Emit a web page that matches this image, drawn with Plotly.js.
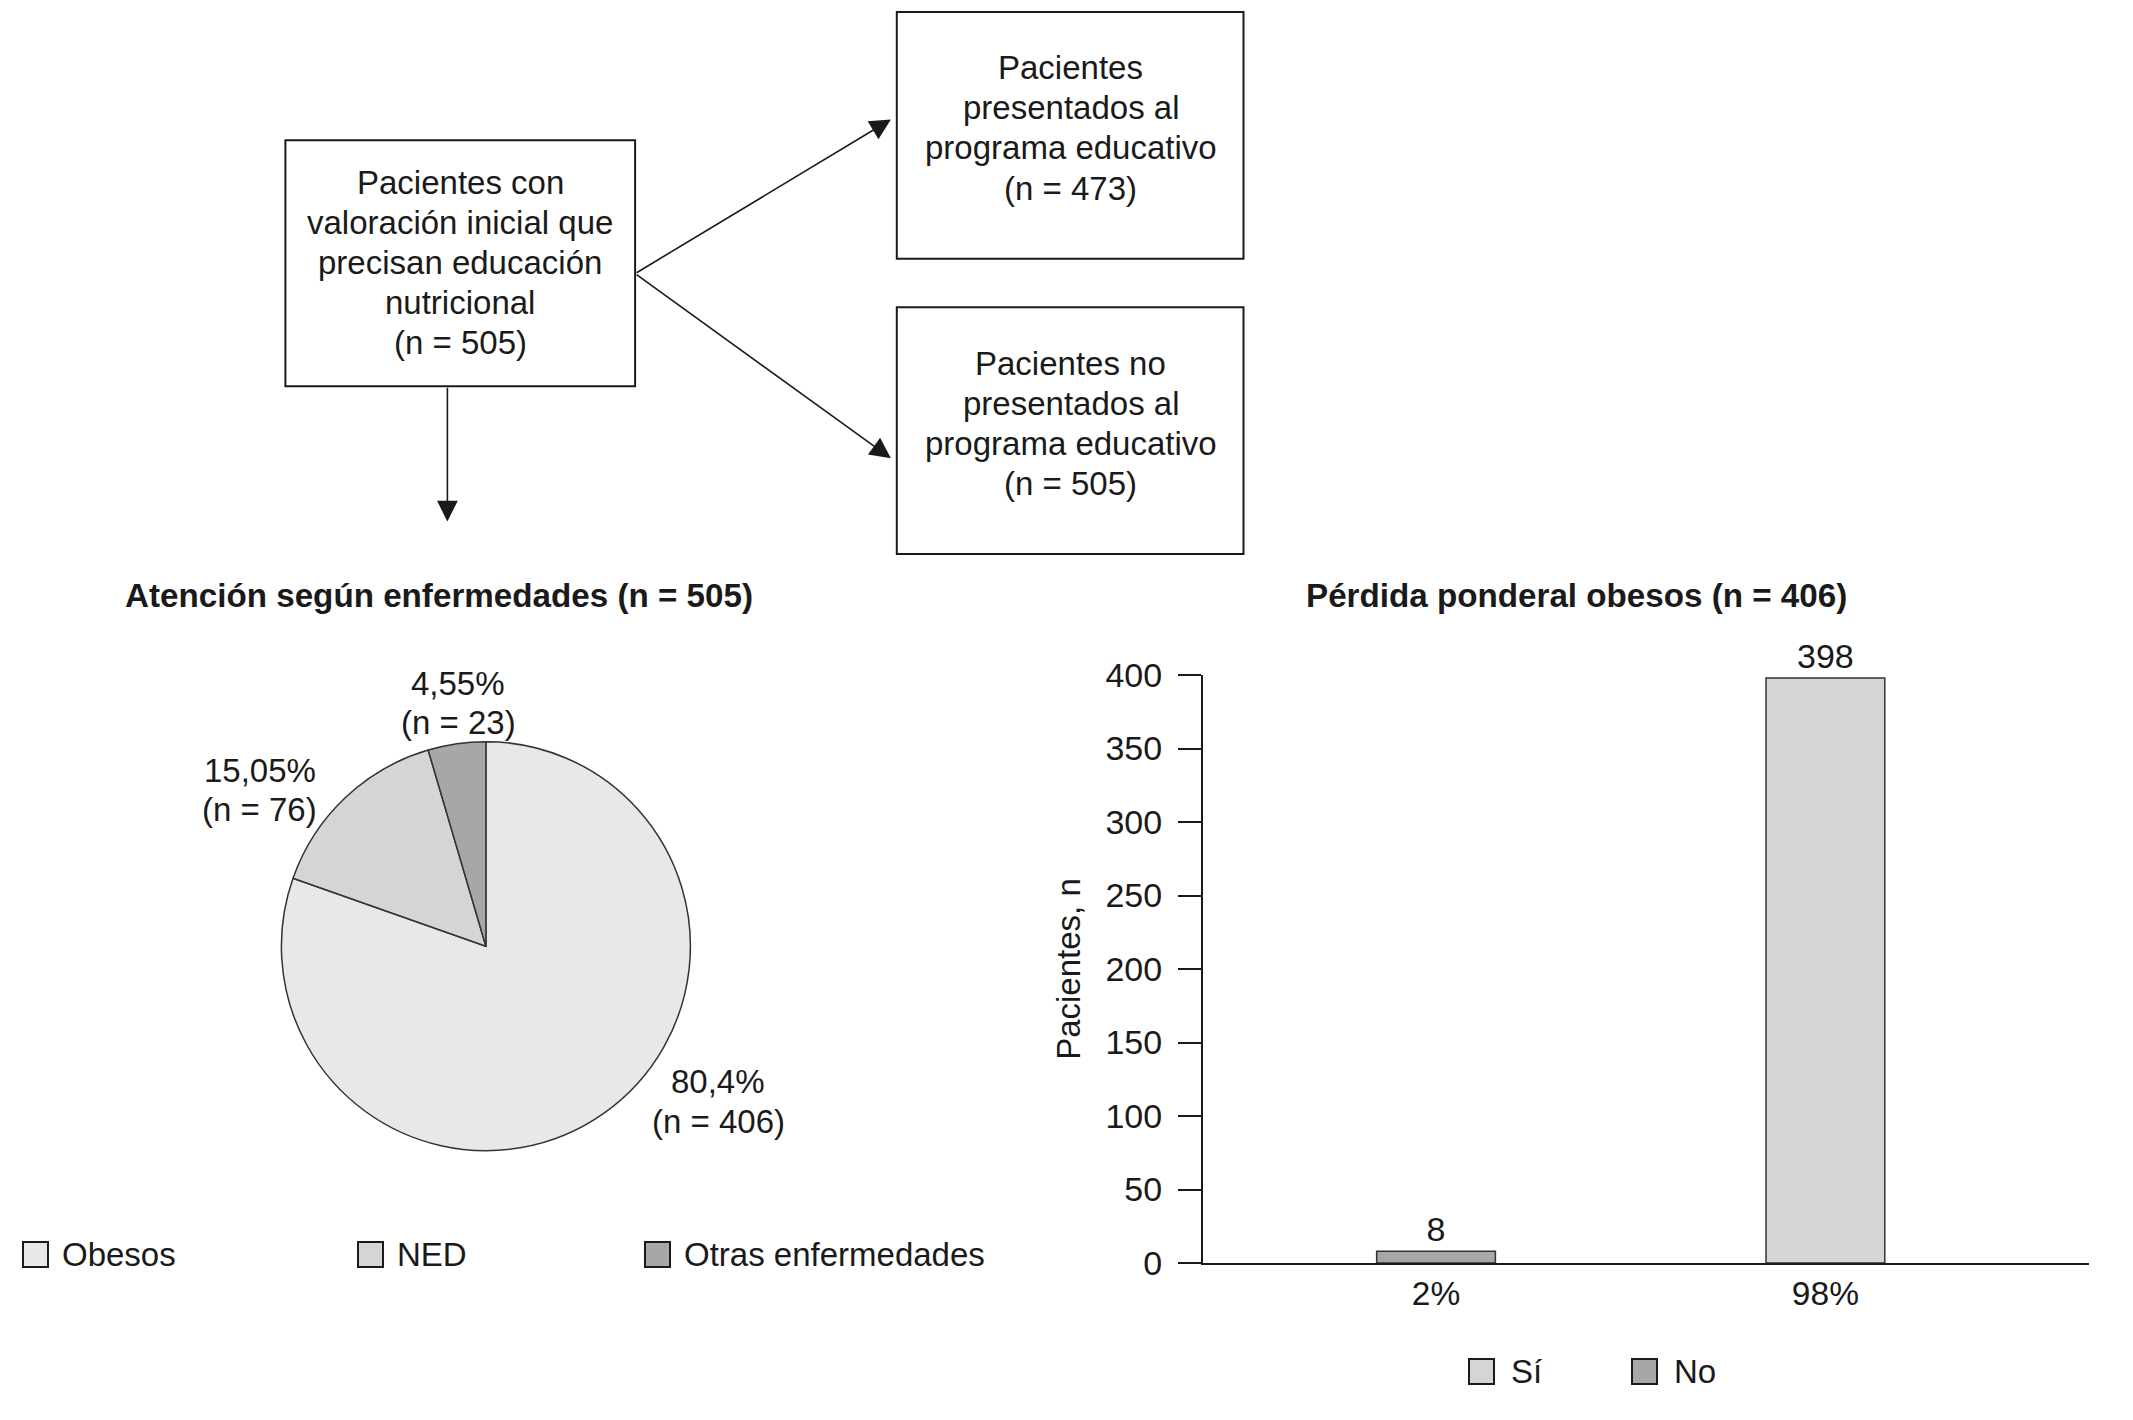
<!DOCTYPE html>
<html>
<head>
<meta charset="utf-8">
<script src="https://cdn.plot.ly/plotly-3.0.1.min.js"></script>
<style>html,body{margin:0;padding:0;background:#fff;}#chart{width:2133px;height:1420px;}</style>
</head>
<body>
<div id="chart"></div>
<script>
// ---- data ----
const pieLabels = ["Obesos", "NED", "Otras enfermedades"];
const pieValues = [406, 76, 23];
const piePct = ["80,4%", "15,05%", "4,55%"];
const pieColors = ["#e7e8ea", "#d4d5d7", "#a6a7a9"];

const barCats = ["2%", "98%"];
const barSeries = ["Sí", "No"];
const siValues = [null, 398];
const noValues = [8, null];
const barColors = ["#d4d5d7", "#a6a7a9"];
const yTicks = [0, 50, 100, 150, 200, 250, 300, 350, 400];

const flowTexts = [
  ["Pacientes con", "valoración inicial que", "precisan educación", "nutricional", "(n = 505)"],
  ["Pacientes", "presentados al", "programa educativo", "(n = 473)"],
  ["Pacientes no", "presentados al", "programa educativo", "(n = 505)"]
];
const pieTitle = "Atención según enfermedades (n = 505)";
const barTitle = "Pérdida ponderal obesos (n = 406)";

// ---- helpers ----
const W = 2133, H = 1420;
const px = x => x / W;
const py = y => 1 - y / H;
const FONT = "Liberation Sans, Arial, sans-serif";
const INK = "#1a1a1a";
const FS = 33;

const annotations = [];
const shapes = [];
function addLines(lines, cx, cy, spacing, size, bold, anchor) {
  const n = lines.length;
  lines.forEach((t, i) => {
    annotations.push({
      xref: "paper", yref: "paper", x: px(cx), y: py(cy + (i - (n - 1) / 2) * spacing),
      text: bold ? "<b>" + t + "</b>" : t, showarrow: false,
      xanchor: anchor || "center", yanchor: "middle",
      font: {family: FONT, size: size, color: INK}
    });
  });
}
function addBox(x0, y0, x1, y1, fill, lw) {
  shapes.push({
    type: "rect", xref: "paper", yref: "paper",
    x0: px(x0), x1: px(x1), y0: py(y1), y1: py(y0),
    line: {color: INK, width: lw}, fillcolor: fill
  });
}

// ---- traces ----
const pieTrace = {
  type: "pie",
  labels: pieLabels,
  values: pieValues,
  sort: false,
  direction: "clockwise",
  rotation: 0,
  marker: {colors: pieColors, line: {color: "#333", width: 1.5}},
  textinfo: "none",
  hoverinfo: "label+value",
  showlegend: false,
  domain: {x: [px(281.4), px(690.4)], y: [py(1150.7), py(741.7)]}
};

const barValues = [siValues, noValues];
const barTraces = barSeries.map((name, k) => ({
  type: "bar", name: name, x: barCats, y: barValues[k],
  marker: {color: barColors[k], line: {color: "#333", width: 1.5}},
  width: 0.305,
  text: barValues[k].map(v => v == null ? "" : String(v)),
  textposition: "outside", cliponaxis: false,
  textfont: {family: FONT, size: 34, color: INK},
  showlegend: false
}));

// ---- flowchart ----
addBox(285.4, 140.3, 635.1, 386.2, "rgba(0,0,0,0)", 2);
addBox(896.8, 11.9, 1243.5, 258.8, "rgba(0,0,0,0)", 2);
addBox(896.8, 307.2, 1243.5, 554.1, "rgba(0,0,0,0)", 2);

const textCenters = [[460.3, 262.7], [1070.7, 127.9], [1070.7, 423.2]];
flowTexts.forEach((t, i) => addLines(t, textCenters[i][0], textCenters[i][1], 40.1, FS, false));

// arrows: [tailX, tailY, headX, headY]
const arrows = [[635.1, 273.6, 890.9, 119.5], [635.1, 273.6, 890.9, 458.3], [447.4, 386.2, 447.4, 521.5]];
arrows.forEach(a => {
  annotations.push({
    xref: "paper", yref: "paper", x: px(a[2]), y: py(a[3]),
    axref: "pixel", ayref: "pixel", ax: a[0] - a[2], ay: a[1] - a[3],
    text: "", showarrow: true, arrowhead: 2, arrowsize: 2.6, arrowwidth: 1.6,
    arrowcolor: INK, standoff: 0, startstandoff: 0
  });
});

// ---- titles ----
addLines([pieTitle], 438.5, 595.6, 0, 33.2, true);
addLines([barTitle], 1576.4, 595.6, 0, 33.2, true);

// ---- pie labels ----
const pieLabelPos = [[718, 1101.3], [259.8, 790.2], [458.3, 703.2]];
pieLabels.forEach((l, i) => {
  addLines([piePct[i], "(n = " + pieValues[i] + ")"], pieLabelPos[i][0], pieLabelPos[i][1], 39.5, FS, false);
});

// ---- legends (boxes + labels) ----
const pieLegX = [23, 358, 645];
pieLabels.forEach((l, i) => {
  addBox(pieLegX[i], 1242, pieLegX[i] + 25, 1267, pieColors[i], 2);
  addLines([l], pieLegX[i] + 37, 1254.5, 0, FS, false, "left");
});
const barLegX = [1469, 1632];
barSeries.forEach((l, i) => {
  addBox(barLegX[i], 1359, barLegX[i] + 25, 1384, barColors[i], 2);
  addLines([l], barLegX[i] + 40, 1371.5, 0, FS, false, "left");
});

const layout = {
  width: W, height: H,
  margin: {l: 0, r: 0, t: 0, b: 0},
  paper_bgcolor: "#fff", plot_bgcolor: "#fff",
  font: {family: FONT, size: FS, color: INK},
  barmode: "overlay",
  showlegend: false,
  xaxis: {
    domain: [px(1203), px(2089)],
    type: "category", categoryorder: "array", categoryarray: barCats,
    range: [-0.5985, 1.677],
    showline: true, linecolor: INK, linewidth: 2,
    ticks: "", showgrid: false, zeroline: false,
    tickfont: {family: FONT, size: 33.5, color: INK},
    ticklabelstandoff: 0, fixedrange: true
  },
  yaxis: {
    domain: [py(1263), py(675)],
    range: [0, 400],
    tickvals: yTicks,
    showline: true, linecolor: INK, linewidth: 2,
    ticks: "outside", ticklen: 23, tickwidth: 2, tickcolor: INK,
    showgrid: false, zeroline: false,
    tickfont: {family: FONT, size: 34, color: INK},
    ticklabelstandoff: 9,
    title: {text: "Pacientes, n", font: {family: FONT, size: 33, color: INK}, standoff: 15},
    fixedrange: true
  },
  shapes: shapes,
  annotations: annotations
};

Plotly.newPlot("chart", [pieTrace].concat(barTraces), layout, {displayModeBar: false, staticPlot: true});
</script>
</body>
</html>
